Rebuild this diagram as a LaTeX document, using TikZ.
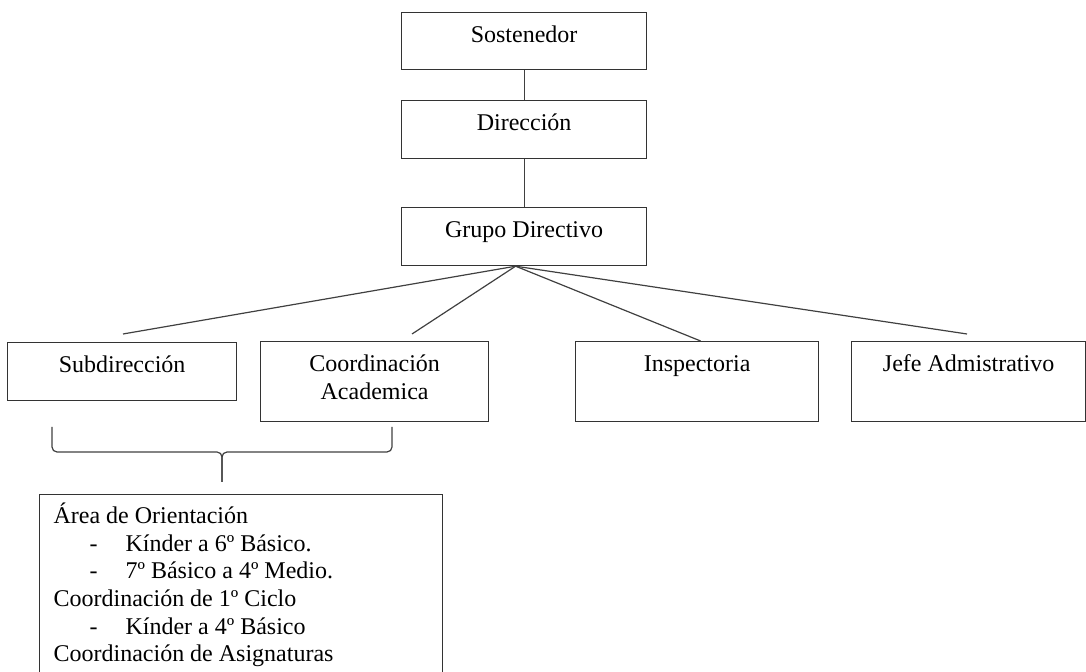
\documentclass[tikz,border=0pt]{standalone}
\usepackage{fontspec}
\setmainfont{Liberation Serif}
\newcommand{\bxt}[3]{\parbox[c][#2][t]{#1}{\centering\rule{0pt}{15pt}#3}}
\newcommand{\dashitem}{\hspace*{18pt}\makebox[18pt][l]{-}}
\begin{document}
\begin{tikzpicture}[x=0.5pt,y=-0.5pt,
  box/.style={draw=black!80, line width=0.6pt, rectangle, inner sep=0pt, anchor=north west, font=\fontsize{12pt}{13.8pt}\selectfont},
  conn/.style={draw=black!75, line width=0.6pt}]
\useasboundingbox (0,0) rectangle (1086,672);
\clip (0,0) rectangle (1086,672);
\node[box] (sost) at (401,12) {\bxt{122.5pt}{28.5pt}{Sostenedor}};
\node[box] (dir) at (401,100) {\bxt{122.5pt}{29pt}{Dirección}};
\node[box] (grupo) at (401,207) {\bxt{122.5pt}{29pt}{Grupo Directivo}};
\node[box] (sub) at (7,342) {\bxt{114.5pt}{29pt}{Subdirección}};
\node[box] (coord) at (260,341) {\bxt{114pt}{40pt}{Coordinación\\Academica}};
\node[box] (insp) at (575,341) {\bxt{121.5pt}{40pt}{Inspectoria}};
\node[box] (jefe) at (851,341) {\bxt{117pt}{40pt}{Jefe Admistrativo}};
\node[box] (area) at (39,494) {\parbox[c][100pt][t]{201.5pt}{\raggedright\leftskip=7pt
\rule{0pt}{14.5pt}Área de Orientación\\
\dashitem Kínder a 6º Básico.\\
\dashitem 7º Básico a 4º Medio.\\
Coordinación de 1º Ciclo\\
\dashitem Kínder a 4º Básico\\
Coordinación de Asignaturas}};
\draw[conn] (sost) -- (dir);
\draw[conn] (dir) -- (grupo);
\coordinate (hub) at ([xshift=-4.25pt]grupo.south);
\coordinate (e1) at (123,334);
\coordinate (e2) at (412,334);
\coordinate (e3) at ([xshift=1.75pt]insp.north);
\coordinate (e4) at (967,334);
\draw[conn] (hub) -- (e1);
\draw[conn] (hub) -- (e2);
\draw[conn] (hub) -- (e3);
\draw[conn] (hub) -- (e4);
\draw[conn, rounded corners=2.5pt] (52,427) -- (52,452) -- (222,452) -- (222,482);
\draw[conn, rounded corners=2.5pt] (392,427) -- (392,452) -- (222,452) -- (222,482);
\end{tikzpicture}
\end{document}
